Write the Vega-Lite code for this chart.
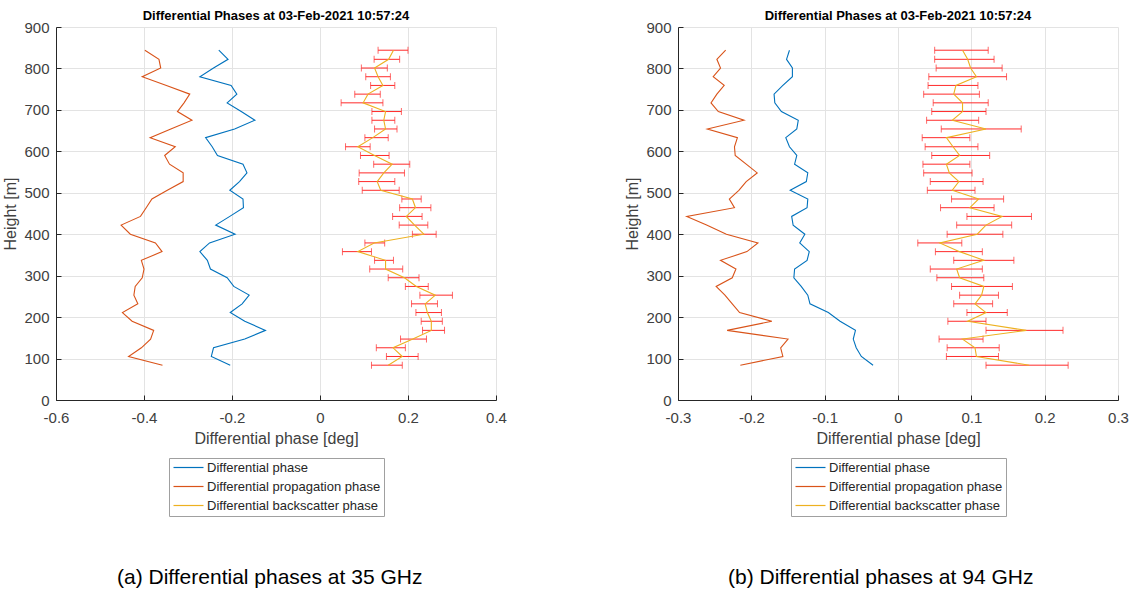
{
  "$schema": "https://vega.github.io/schema/vega-lite/v6.json",
  "background": "white",
  "padding": {"left": 2, "top": 10, "right": 0, "bottom": 0},
  "datasets": {
    "a": [
      {"h": 84, "dp": -0.204, "pp": -0.358, "bp": 0.155, "lo": 0.117, "hi": 0.187},
      {"h": 105, "dp": -0.247, "pp": -0.435, "bp": 0.187, "lo": 0.151, "hi": 0.223},
      {"h": 126, "dp": -0.242, "pp": -0.406, "bp": 0.166, "lo": 0.128, "hi": 0.194},
      {"h": 147, "dp": -0.171, "pp": -0.385, "bp": 0.211, "lo": 0.183, "hi": 0.242},
      {"h": 168, "dp": -0.124, "pp": -0.378, "bp": 0.253, "lo": 0.233, "hi": 0.283},
      {"h": 190, "dp": -0.171, "pp": -0.427, "bp": 0.253, "lo": 0.230, "hi": 0.278},
      {"h": 211, "dp": -0.204, "pp": -0.449, "bp": 0.244, "lo": 0.218, "hi": 0.276},
      {"h": 232, "dp": -0.177, "pp": -0.414, "bp": 0.239, "lo": 0.208, "hi": 0.267},
      {"h": 253, "dp": -0.161, "pp": -0.423, "bp": 0.262, "lo": 0.227, "hi": 0.301},
      {"h": 274, "dp": -0.196, "pp": -0.420, "bp": 0.219, "lo": 0.194, "hi": 0.246},
      {"h": 295, "dp": -0.211, "pp": -0.404, "bp": 0.192, "lo": 0.155, "hi": 0.225},
      {"h": 316, "dp": -0.249, "pp": -0.400, "bp": 0.149, "lo": 0.113, "hi": 0.188},
      {"h": 337, "dp": -0.256, "pp": -0.406, "bp": 0.149, "lo": 0.124, "hi": 0.167},
      {"h": 358, "dp": -0.273, "pp": -0.359, "bp": 0.086, "lo": 0.051, "hi": 0.117},
      {"h": 379, "dp": -0.251, "pp": -0.374, "bp": 0.123, "lo": 0.102, "hi": 0.147},
      {"h": 400, "dp": -0.193, "pp": -0.431, "bp": 0.236, "lo": 0.210, "hi": 0.264},
      {"h": 422, "dp": -0.237, "pp": -0.452, "bp": 0.215, "lo": 0.180, "hi": 0.245},
      {"h": 443, "dp": -0.205, "pp": -0.408, "bp": 0.196, "lo": 0.165, "hi": 0.232},
      {"h": 464, "dp": -0.174, "pp": -0.395, "bp": 0.217, "lo": 0.181, "hi": 0.252},
      {"h": 485, "dp": -0.175, "pp": -0.382, "bp": 0.210, "lo": 0.186, "hi": 0.230},
      {"h": 506, "dp": -0.205, "pp": -0.347, "bp": 0.138, "lo": 0.096, "hi": 0.180},
      {"h": 527, "dp": -0.183, "pp": -0.311, "bp": 0.130, "lo": 0.088, "hi": 0.170},
      {"h": 548, "dp": -0.166, "pp": -0.311, "bp": 0.145, "lo": 0.089, "hi": 0.192},
      {"h": 569, "dp": -0.175, "pp": -0.342, "bp": 0.164, "lo": 0.122, "hi": 0.204},
      {"h": 590, "dp": -0.233, "pp": -0.353, "bp": 0.124, "lo": 0.092, "hi": 0.157},
      {"h": 611, "dp": -0.245, "pp": -0.329, "bp": 0.086, "lo": 0.058, "hi": 0.114},
      {"h": 633, "dp": -0.260, "pp": -0.386, "bp": 0.120, "lo": 0.102, "hi": 0.155},
      {"h": 654, "dp": -0.194, "pp": -0.339, "bp": 0.149, "lo": 0.124, "hi": 0.175},
      {"h": 675, "dp": -0.148, "pp": -0.291, "bp": 0.145, "lo": 0.118, "hi": 0.170},
      {"h": 696, "dp": -0.179, "pp": -0.324, "bp": 0.149, "lo": 0.118, "hi": 0.185},
      {"h": 717, "dp": -0.211, "pp": -0.309, "bp": 0.098, "lo": 0.048, "hi": 0.143},
      {"h": 738, "dp": -0.189, "pp": -0.296, "bp": 0.109, "lo": 0.079, "hi": 0.137},
      {"h": 759, "dp": -0.202, "pp": -0.349, "bp": 0.143, "lo": 0.115, "hi": 0.170},
      {"h": 780, "dp": -0.273, "pp": -0.404, "bp": 0.132, "lo": 0.104, "hi": 0.160},
      {"h": 801, "dp": -0.242, "pp": -0.362, "bp": 0.124, "lo": 0.094, "hi": 0.153},
      {"h": 822, "dp": -0.209, "pp": -0.366, "bp": 0.156, "lo": 0.123, "hi": 0.181},
      {"h": 844, "dp": -0.230, "pp": -0.398, "bp": 0.167, "lo": 0.132, "hi": 0.200}
    ],
    "b": [
      {"h": 84, "dp": -0.034, "pp": -0.215, "bp": 0.179, "lo": 0.120, "hi": 0.232},
      {"h": 105, "dp": -0.050, "pp": -0.157, "bp": 0.107, "lo": 0.066, "hi": 0.137},
      {"h": 126, "dp": -0.057, "pp": -0.160, "bp": 0.105, "lo": 0.067, "hi": 0.138},
      {"h": 147, "dp": -0.061, "pp": -0.150, "bp": 0.088, "lo": 0.056, "hi": 0.116},
      {"h": 168, "dp": -0.058, "pp": -0.233, "bp": 0.175, "lo": 0.120, "hi": 0.225},
      {"h": 190, "dp": -0.079, "pp": -0.172, "bp": 0.095, "lo": 0.068, "hi": 0.120},
      {"h": 211, "dp": -0.095, "pp": -0.216, "bp": 0.120, "lo": 0.094, "hi": 0.149},
      {"h": 232, "dp": -0.120, "pp": -0.226, "bp": 0.105, "lo": 0.076, "hi": 0.129},
      {"h": 253, "dp": -0.123, "pp": -0.236, "bp": 0.114, "lo": 0.084, "hi": 0.137},
      {"h": 274, "dp": -0.132, "pp": -0.248, "bp": 0.117, "lo": 0.073, "hi": 0.156},
      {"h": 295, "dp": -0.142, "pp": -0.226, "bp": 0.084, "lo": 0.053, "hi": 0.117},
      {"h": 316, "dp": -0.141, "pp": -0.221, "bp": 0.080, "lo": 0.044, "hi": 0.115},
      {"h": 337, "dp": -0.124, "pp": -0.242, "bp": 0.117, "lo": 0.076, "hi": 0.158},
      {"h": 358, "dp": -0.121, "pp": -0.206, "bp": 0.084, "lo": 0.051, "hi": 0.115},
      {"h": 379, "dp": -0.134, "pp": -0.191, "bp": 0.057, "lo": 0.027, "hi": 0.087},
      {"h": 400, "dp": -0.127, "pp": -0.234, "bp": 0.108, "lo": 0.067, "hi": 0.143},
      {"h": 422, "dp": -0.143, "pp": -0.261, "bp": 0.120, "lo": 0.080, "hi": 0.155},
      {"h": 443, "dp": -0.145, "pp": -0.288, "bp": 0.142, "lo": 0.094, "hi": 0.182},
      {"h": 464, "dp": -0.124, "pp": -0.223, "bp": 0.098, "lo": 0.058, "hi": 0.131},
      {"h": 485, "dp": -0.123, "pp": -0.230, "bp": 0.110, "lo": 0.073, "hi": 0.144},
      {"h": 506, "dp": -0.147, "pp": -0.217, "bp": 0.074, "lo": 0.040, "hi": 0.105},
      {"h": 527, "dp": -0.125, "pp": -0.207, "bp": 0.083, "lo": 0.044, "hi": 0.116},
      {"h": 548, "dp": -0.123, "pp": -0.192, "bp": 0.070, "lo": 0.035, "hi": 0.101},
      {"h": 569, "dp": -0.141, "pp": -0.207, "bp": 0.066, "lo": 0.034, "hi": 0.098},
      {"h": 590, "dp": -0.138, "pp": -0.222, "bp": 0.084, "lo": 0.046, "hi": 0.125},
      {"h": 611, "dp": -0.148, "pp": -0.223, "bp": 0.075, "lo": 0.037, "hi": 0.109},
      {"h": 633, "dp": -0.153, "pp": -0.219, "bp": 0.066, "lo": 0.033, "hi": 0.098},
      {"h": 654, "dp": -0.138, "pp": -0.260, "bp": 0.120, "lo": 0.059, "hi": 0.168},
      {"h": 675, "dp": -0.136, "pp": -0.210, "bp": 0.074, "lo": 0.039, "hi": 0.110},
      {"h": 696, "dp": -0.159, "pp": -0.245, "bp": 0.088, "lo": 0.046, "hi": 0.120},
      {"h": 717, "dp": -0.168, "pp": -0.255, "bp": 0.088, "lo": 0.048, "hi": 0.123},
      {"h": 738, "dp": -0.169, "pp": -0.247, "bp": 0.076, "lo": 0.035, "hi": 0.111},
      {"h": 759, "dp": -0.157, "pp": -0.237, "bp": 0.079, "lo": 0.041, "hi": 0.109},
      {"h": 780, "dp": -0.144, "pp": -0.252, "bp": 0.107, "lo": 0.042, "hi": 0.148},
      {"h": 801, "dp": -0.144, "pp": -0.242, "bp": 0.099, "lo": 0.052, "hi": 0.142},
      {"h": 822, "dp": -0.152, "pp": -0.247, "bp": 0.095, "lo": 0.050, "hi": 0.131},
      {"h": 844, "dp": -0.148, "pp": -0.235, "bp": 0.088, "lo": 0.050, "hi": 0.123}
    ]
  },
  "hconcat": [
    {
      "title": {"text": "(a) Differential phases at 35 GHz", "orient": "bottom", "anchor": "middle", "offset": 50, "dx": 15, "fontSize": 21, "fontWeight": "normal", "font": "Liberation Sans", "color": "#000000"},
      "vconcat": [
        {
          "title": {"text": "Differential Phases at 03-Feb-2021 10:57:24", "fontSize": 13, "fontWeight": "bold", "font": "Liberation Sans", "color": "#000000", "offset": -3},
          "width": 440,
          "height": 373,
          "data": {"name": "a"},
          "layer": [
            {
              "mark": {"type": "rule", "color": "#ff2a2a", "strokeWidth": 1},
              "encoding": {
                "x": {"field": "lo", "type": "quantitative", "scale": {"domain": [-0.6, 0.4], "nice": false}, "axis": {"title": "Differential phase [deg]", "values": [-0.6, -0.4, -0.2, 0, 0.2, 0.4], "labelExpr": "replace(format(datum.value, '~g'), '−', '-')"}},
                "x2": {"field": "hi"},
                "y": {"field": "h", "type": "quantitative", "scale": {"domain": [0, 900], "nice": false}, "axis": {"title": "Height [m]", "values": [0, 100, 200, 300, 400, 500, 600, 700, 800, 900]}}
              }
            },
            {
              "mark": {"type": "tick", "orient": "vertical", "size": 7, "thickness": 1, "color": "#ff2a2a"},
              "encoding": {"x": {"field": "lo", "type": "quantitative"}, "y": {"field": "h", "type": "quantitative"}}
            },
            {
              "mark": {"type": "tick", "orient": "vertical", "size": 7, "thickness": 1, "color": "#ff2a2a"},
              "encoding": {"x": {"field": "hi", "type": "quantitative"}, "y": {"field": "h", "type": "quantitative"}}
            },
            {
              "transform": [{"fold": ["dp", "pp", "bp"], "as": ["key", "v"]}],
              "mark": {"type": "line", "strokeWidth": 1.1},
              "encoding": {
                "x": {"field": "v", "type": "quantitative"},
                "y": {"field": "h", "type": "quantitative"},
                "order": {"field": "h", "type": "quantitative"},
                "color": {"field": "key", "type": "nominal", "scale": {"domain": ["dp", "pp", "bp"], "range": ["#0072BD", "#D95319", "#EDB120"]}, "legend": {"labelExpr": "datum.label == 'dp' ? 'Differential phase' : datum.label == 'pp' ? 'Differential propagation phase' : 'Differential backscatter phase'"}}
              }
            }
          ]
        }
      ]
    },
    {
      "title": {"text": "(b) Differential phases at 94 GHz", "orient": "bottom", "anchor": "middle", "offset": 50, "dx": 4, "fontSize": 21, "fontWeight": "normal", "font": "Liberation Sans", "color": "#000000"},
      "vconcat": [
        {
          "title": {"text": "Differential Phases at 03-Feb-2021 10:57:24", "fontSize": 13, "fontWeight": "bold", "font": "Liberation Sans", "color": "#000000", "offset": -3},
          "width": 440,
          "height": 373,
          "data": {"name": "b"},
          "layer": [
            {
              "mark": {"type": "rule", "color": "#ff2a2a", "strokeWidth": 1},
              "encoding": {
                "x": {"field": "lo", "type": "quantitative", "scale": {"domain": [-0.3, 0.3], "nice": false}, "axis": {"title": "Differential phase [deg]", "values": [-0.3, -0.2, -0.1, 0, 0.1, 0.2, 0.3], "labelExpr": "replace(format(datum.value, '~g'), '−', '-')"}},
                "x2": {"field": "hi"},
                "y": {"field": "h", "type": "quantitative", "scale": {"domain": [0, 900], "nice": false}, "axis": {"title": "Height [m]", "values": [0, 100, 200, 300, 400, 500, 600, 700, 800, 900]}}
              }
            },
            {
              "mark": {"type": "tick", "orient": "vertical", "size": 7, "thickness": 1, "color": "#ff2a2a"},
              "encoding": {"x": {"field": "lo", "type": "quantitative"}, "y": {"field": "h", "type": "quantitative"}}
            },
            {
              "mark": {"type": "tick", "orient": "vertical", "size": 7, "thickness": 1, "color": "#ff2a2a"},
              "encoding": {"x": {"field": "hi", "type": "quantitative"}, "y": {"field": "h", "type": "quantitative"}}
            },
            {
              "transform": [{"fold": ["dp", "pp", "bp"], "as": ["key", "v"]}],
              "mark": {"type": "line", "strokeWidth": 1.1},
              "encoding": {
                "x": {"field": "v", "type": "quantitative"},
                "y": {"field": "h", "type": "quantitative"},
                "order": {"field": "h", "type": "quantitative"},
                "color": {"field": "key", "type": "nominal", "scale": {"domain": ["dp", "pp", "bp"], "range": ["#0072BD", "#D95319", "#EDB120"]}, "legend": {"labelExpr": "datum.label == 'dp' ? 'Differential phase' : datum.label == 'pp' ? 'Differential propagation phase' : 'Differential backscatter phase'"}}
              }
            }
          ]
        }
      ]
    }
  ],
  "spacing": 117,
  "resolve": {"scale": {"color": "independent", "x": "independent", "y": "independent"}, "legend": {"color": "independent"}},
  "config": {
    "view": {"stroke": null},
    "axis": {
      "grid": true,
      "gridColor": "#e3e3e3",
      "gridWidth": 1,
      "domainColor": "#262626",
      "domainWidth": 1,
      "ticks": true,
      "tickSize": -5,
      "tickColor": "#262626",
      "labelPadding": 12,
      "labelFlush": false,
      "labelFont": "Liberation Sans",
      "labelFontSize": 15,
      "labelColor": "#404040",
      "titleFont": "Liberation Sans",
      "titleFontSize": 16,
      "titleFontWeight": "normal",
      "titleColor": "#404040",
      "titlePadding": 5
    },
    "axisX": {"labelPadding": 15},
    "legend": {
      "orient": "none",
      "legendX": 113,
      "legendY": 431,
      "direction": "vertical",
      "title": null,
      "symbolType": "M-1,0H5",
      "symbolSize": 100,
      "symbolStrokeWidth": 1.2,
      "labelFont": "Liberation Sans",
      "labelFontSize": 13,
      "labelLimit": 400,
      "labelColor": "#262626",
      "labelOffset": 22,
      "strokeColor": "#a0a0a0",
      "fillColor": "#ffffff",
      "padding": 3,
      "rowPadding": 5
    }
  }
}
